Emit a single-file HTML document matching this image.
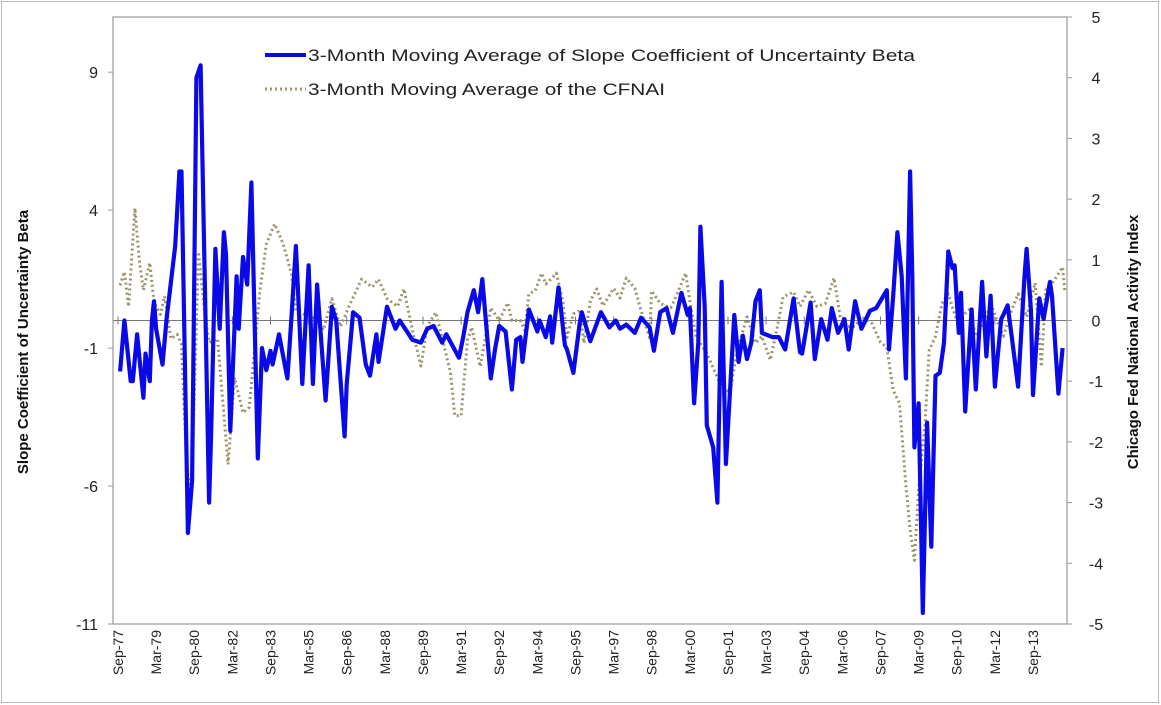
<!DOCTYPE html>
<html><head><meta charset="utf-8"><style>
html,body{margin:0;padding:0;background:#fff}
svg{display:block;font-family:"Liberation Sans",sans-serif}
</style></head><body>
<svg id="chart" width="1161" height="705" viewBox="0 0 1161 705" xmlns="http://www.w3.org/2000/svg">
<rect x="1.5" y="1.5" width="1157" height="701" fill="#fff" stroke="#bbb"/>
<g id="grid"></g>
<g id="series"></g>
<g id="axes"></g>
<g>
<line x1="265" y1="55" x2="306" y2="55" stroke="#0a0ae8" stroke-width="4"/>
<text x="308" y="61" font-size="17" fill="#222" textLength="607" lengthAdjust="spacingAndGlyphs">3-Month Moving Average of Slope Coefficient of Uncertainty Beta</text>
<line x1="265" y1="89" x2="306" y2="89" stroke="#9a9468" stroke-width="3" stroke-dasharray="2 3"/>
<text x="308" y="95" font-size="17" fill="#222" textLength="357" lengthAdjust="spacingAndGlyphs">3-Month Moving Average of the CFNAI</text>
</g>
<text transform="translate(28,342) rotate(-90)" text-anchor="middle" font-size="15" font-weight="bold" fill="#111">Slope Coefficient of Uncertainty Beta</text>
<text transform="translate(1138,342) rotate(-90)" text-anchor="middle" font-size="15" font-weight="bold" fill="#111">Chicago Fed National Activity Index</text>
</svg>
<script>
const betaMonths=[1,3,6,7,9,12,13,15,16,17,18,21,23,27,29,30,33,35,37,39,43,44,46,48,50,51,53,56,57,59,61,63,66,68,70,72,73,76,80,82,84,87,90,92,94,98,101,103,107,108,111,114,117,119,122,123,127,131,133,139,143,146,149,153,155,161,163,165,168,170,172,176,178,180,183,186,188,190,191,194,198,199,202,204,205,208,211,212,215,218,219,223,228,232,235,237,240,244,247,251,253,256,259,262,266,269,270,272,274,275,277,278,281,283,285,287,291,293,295,297,299,301,303,304,309,312,315,319,322,323,327,329,332,335,337,340,343,345,348,351,355,358,363,364,366,368,370,372,374,375,376,378,380,382,384,386,388,390,392,394,395,397,398,400,403,405,408,410,412,414,417,418,420,422,425,428,429,431,432,435,437,440,441,444,446];
const betaValues=[-1.85,0,-2.2,-2.2,-0.5,-2.8,-1.2,-2.2,0,0.7,-0.3,-1.6,0.1,2.7,5.4,5.4,-7.7,-5.8,8.8,9.25,-6.6,-4,2.6,-0.3,3.2,2.4,-4,1.6,-0.3,2.3,1.3,5.0,-5.0,-1.0,-1.8,-1.1,-1.6,-0.5,-2.1,0.25,2.7,-2.3,2.0,-2.3,1.3,-2.9,0.5,0,-4.2,-2.3,0.3,0.1,-1.6,-2.0,-0.5,-1.5,0.5,-0.3,0,-0.7,-0.8,-0.3,-0.2,-0.8,-0.5,-1.35,-0.6,0.3,1.1,0.3,1.5,-2.1,-1.05,-0.2,-0.4,-2.5,-0.7,-0.6,-1.5,0.4,-0.4,0,-0.6,0.15,-0.8,1.2,-0.9,-1.05,-1.9,-0.1,0.3,-0.75,0.3,-0.25,0,-0.3,-0.15,-0.45,0.1,-0.25,-1.1,0.3,0.45,-0.45,1.0,0.2,0.45,-3.0,-0.8,3.4,0.5,-3.8,-4.6,-6.6,1.4,-5.2,0.2,-1.5,-0.55,-1.4,-0.8,0.7,1.1,-0.45,-0.6,-0.6,-1.05,0.8,-1.15,-1.2,0.65,-1.4,0.05,-0.7,0.45,-0.45,0.05,-1.05,0.7,-0.3,0.35,0.45,1.1,-1.05,0.9,3.2,1.6,-2.1,5.4,1.6,-4.6,-3.0,-10.6,-3.7,-8.2,-2.0,-1.9,-0.8,2.5,1.9,2.0,-0.45,1.0,-3.3,0.4,-2.5,1.4,-1.3,0.9,-2.4,0.05,0.2,0.55,-0.6,-2.4,1.6,2.6,0.4,-2.7,0.8,0.05,1.4,0.9,-2.65,-1.0];
const cfnaiMonths=[1,3,5,8,10,12,15,17,20,22,25,28,30,33,35,38,41,43,47,52,55,59,62,67,70,74,78,82,84,88,93,97,101,105,109,115,120,123,127,132,135,139,143,146,150,153,157,159,162,165,167,171,176,180,184,186,190,192,194,197,200,202,205,207,210,212,215,218,220,223,226,229,234,237,240,244,247,251,252,256,261,264,268,270,273,278,282,285,289,292,297,301,304,308,311,314,319,322,326,330,334,338,341,344,348,351,356,360,363,366,369,372,374,376,378,381,383,386,389,392,396,398,402,405,410,412,418,422,425,429,433,436,438,442,446,447];
const cfnaiValues=[0.58,0.8,0.23,1.85,1.0,0.5,0.95,0.3,0.1,0.4,-0.3,-0.23,-0.4,-2.9,-2.45,1.13,0.1,-0.36,-0.3,-2.37,-0.94,-1.52,-1.43,0.49,1.26,1.59,1.26,0.75,0.16,0.1,0.03,-0.16,0.36,-0.1,0.23,0.68,0.55,0.68,0.36,0.23,0.52,-0.16,-0.75,-0.1,0.13,-0.28,-0.86,-1.57,-1.57,-0.32,-0.11,-0.76,0.21,0,0.29,0,0,-0.16,0.44,0.49,0.78,0.6,0.7,0.78,0.32,-0.28,0.11,0.16,-0.37,0.32,0.52,0.24,0.53,0.37,0.7,0.53,0.16,-0.28,0.49,0.28,0.21,0.44,0.78,0.32,-0.28,-0.54,-0.86,-1.1,-1.18,-0.54,0.06,-0.37,-0.26,-0.65,-0.16,0.39,0.47,0.23,0.5,0.23,0.28,0.7,0.06,-0.1,-0.1,0.06,-0.05,-0.36,-0.44,-1.15,-1.36,-2.72,-3.44,-3.95,-2.79,-1.7,-0.49,-0.26,0.28,0.44,0,0.06,0.18,-0.26,0.06,0.28,-0.26,0.18,0.44,0.06,0.62,-0.76,0.5,0.66,0.88,0.5];
const leftTicks=[9,4,-1,-6,-11];
const rightTicks=[5,4,3,2,1,0,-1,-2,-3,-4,-5];
const xTickLabels=["Sep-77","Mar-79","Sep-80","Mar-82","Sep-83","Mar-85","Sep-86","Mar-88","Sep-89","Mar-91","Sep-92","Mar-94","Sep-95","Mar-97","Sep-98","Mar-00","Sep-01","Mar-03","Sep-04","Mar-06","Sep-07","Mar-09","Sep-10","Mar-12","Sep-13"];

const NS="http://www.w3.org/2000/svg";
const L=113,R=1067,T=17,B=624;
const xM=m=>118+m*2.118;
const yL=v=>B-(v+11)/22*(B-T);
const yR=v=>B-(v+5)/10*(B-T);
function mk(tag,attrs,parent){const e=document.createElementNS(NS,tag);for(const k in attrs)e.setAttribute(k,attrs[k]);parent.appendChild(e);return e;}
const axes=document.getElementById('axes'),series=document.getElementById('series'),grid=document.getElementById('grid');

const zl=mk('line',{x1:L,x2:R,y1:yR(0),y2:yR(0),stroke:'#777','stroke-width':1},grid);


const frame=mk('rect',{x:L,y:T,width:R-L,height:B-T,fill:'none',stroke:'#999','stroke-width':1.2},axes);



leftTicks.forEach(v=>{
 const t=mk('text',{x:98,y:yL(v)+6,'text-anchor':'end','font-size':16,fill:'#222'},axes);
 t.textContent=v;
 
 
 const tk=mk('line',{x1:L-5,x2:L,y1:yL(v),y2:yL(v),stroke:'#999'},axes);
 
 
});
rightTicks.forEach(v=>{
 const t=mk('text',{x:1096,y:yR(v)+6,'text-anchor':'middle','font-size':16,fill:'#222'},axes);
 t.textContent=v;
 
 
 const tk=mk('line',{x1:R,x2:R+5,y1:yR(v),y2:yR(v),stroke:'#999'},axes);
 
 
});
xTickLabels.forEach((s,i)=>{
 const x=xM(i*18);
 const t=mk('text',{transform:`translate(${x+5},${630}) rotate(-90)`,'text-anchor':'end','font-size':14,fill:'#222'},axes);
 t.textContent=s;
 
 
 const tk=mk('line',{x1:x,x2:x,y1:yR(0)-4,y2:yR(0)+4,stroke:'#777'},grid);
 
 
});

const cf=mk('polyline',{points:cfnaiMonths.map((m,i)=>xM(m).toFixed(1)+','+yR(cfnaiValues[i]).toFixed(1)).join(' '),fill:'none',stroke:'#9a9468','stroke-width':3,'stroke-dasharray':'2 3','stroke-linejoin':'round'},series);


const bl=mk('polyline',{points:betaMonths.map((m,i)=>xM(m).toFixed(1)+','+yL(betaValues[i]).toFixed(1)).join(' '),fill:'none',stroke:'#0a0ae8','stroke-width':4.2,'stroke-linejoin':'round'},series);


</script>
</body></html>
